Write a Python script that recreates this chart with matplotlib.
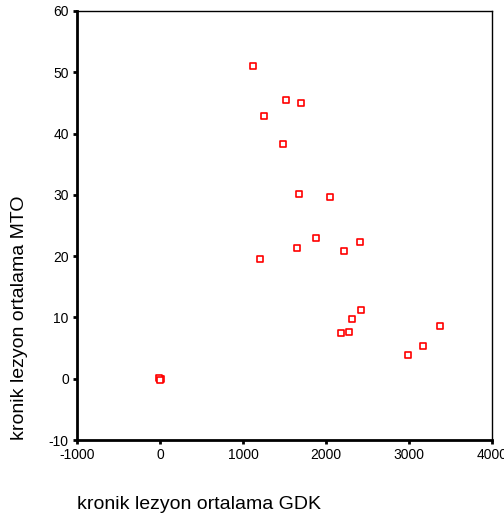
import matplotlib
matplotlib.use("Agg")
import matplotlib.pyplot as plt

plt.rcParams['font.family'] = ['Liberation Sans', 'DejaVu Sans']
plt.rcParams['axes.unicode_minus'] = False

# kronik lezyon ortalama GDK (x) vs MTO (y)
gdk = [1117, 1512, 1700, 1254, 1476, 1669, 2047, 1874, 1652, 2220, 2405, 1205,
       2425, 2316, 2184, 2273, 2993, 3167, 3376, 0, 8, -8, 0]
mto = [51.0, 45.5, 45.0, 42.9, 38.3, 30.2, 29.7, 23.0, 21.3, 20.9, 22.3, 19.5,
       11.3, 9.7, 7.4, 7.6, 3.9, 5.3, 8.6, 0.0, -0.1, 0.1, -0.2]

x_ticks = [-1000, 0, 1000, 2000, 3000, 4000]
y_ticks = [-10, 0, 10, 20, 30, 40, 50, 60]

fig = plt.figure(figsize=(5.04, 5.19), dpi=100)
ax = fig.add_axes([0.153, 0.152, 0.823, 0.827])

ax.scatter(gdk, mto, marker='s', s=22, facecolors='white',
           edgecolors='#ff0000', linewidths=1.2, zorder=3)

ax.set_xlim(-1000, 4000)
ax.set_ylim(-10, 60)
ax.set_xticks(x_ticks)
ax.set_yticks(y_ticks)
ax.tick_params(direction='out', length=3, width=2, labelsize=10,
               colors='black', pad=3)

ax.spines['left'].set_linewidth(2)
ax.spines['bottom'].set_linewidth(2)
ax.spines['top'].set_linewidth(1)
ax.spines['right'].set_linewidth(1)

fig.text(0.153, 0.027, 'kronik lezyon ortalama GDK', fontsize=14,
         ha='left', va='center')
fig.text(0.038, 0.152, 'kronik lezyon ortalama MTO', fontsize=14,
         rotation=90, ha='center', va='bottom')

fig.savefig('out.png', dpi=100)
